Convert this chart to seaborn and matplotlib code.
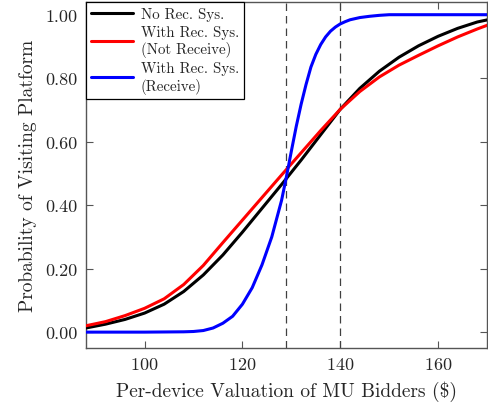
import matplotlib
matplotlib.use("Agg")
import matplotlib.pyplot as plt
import seaborn as sns
import pandas as pd
from matplotlib.ticker import FormatStrFormatter

# ---- data ----
x_grid = [88, 92, 96, 100, 104, 108, 112, 116, 120, 124, 128, 132, 136,
          140, 144, 148, 152, 156, 160, 164, 168, 172]
no_rec = [0.013, 0.025, 0.040, 0.060, 0.088, 0.128, 0.180, 0.243, 0.315,
          0.390, 0.465, 0.542, 0.622, 0.702, 0.768, 0.822, 0.866, 0.902,
          0.932, 0.957, 0.977, 0.990]
not_receive = [0.020, 0.033, 0.052, 0.075, 0.105, 0.150, 0.210, 0.282,
               0.353, 0.424, 0.495, 0.565, 0.635, 0.702, 0.758, 0.804,
               0.841, 0.872, 0.902, 0.930, 0.955, 0.978]
x_blue = [88, 92, 96, 100, 104, 108, 110, 112, 114, 116, 118, 120, 122, 124,
          126, 128, 129, 130, 131, 132, 133, 134, 135, 136, 137, 138, 139,
          140, 141, 142, 144, 146, 148, 150, 155, 160, 165, 172]
receive = [0.0, 0.0, 0.0, 0.0, 0.0005, 0.001, 0.002, 0.005, 0.013, 0.028,
           0.050, 0.088, 0.140, 0.212, 0.300, 0.415, 0.490, 0.570, 0.648,
           0.718, 0.780, 0.835, 0.875, 0.906, 0.930, 0.948, 0.961,
           0.971, 0.978, 0.984, 0.991, 0.995, 0.998, 1.0, 1.0, 1.0, 1.0, 1.0]
labels = ["No Rec. Sys.", "With Rec. Sys.\n(Not Receive)", "With Rec. Sys.\n(Receive)"]
colors = ["black", "#ff0000", "#0000ff"]
vlines = [129, 140]
y_ticks = [0.0, 0.2, 0.4, 0.6, 0.8, 1.0]
x_ticks = [100, 120, 140, 160]

df = pd.concat([
    pd.DataFrame({"x": x_grid, "y": no_rec, "series": labels[0]}),
    pd.DataFrame({"x": x_grid, "y": not_receive, "series": labels[1]}),
    pd.DataFrame({"x": x_blue, "y": receive, "series": labels[2]}),
], ignore_index=True)

sns.set_style("ticks")
plt.rcParams["font.family"] = ["cmr10", "DejaVu Serif"]
plt.rcParams["mathtext.fontset"] = "cm"
plt.rcParams["axes.formatter.use_mathtext"] = True
plt.rcParams["axes.unicode_minus"] = False

fig = plt.figure(figsize=(4.88, 4.06), dpi=100)
ax = fig.add_axes([0.176, 0.1404, 0.822, 0.8522])

for v in vlines:
    ax.axvline(v, color="#404040", lw=0.9, ls=(0, (6, 4)), zorder=1)

sns.lineplot(data=df, x="x", y="y", hue="series", hue_order=labels,
             palette=dict(zip(labels, colors)), lw=2.2, ax=ax, sort=True,
             estimator=None, zorder=3)

ax.set_xlim(88, 170)
ax.set_ylim(-0.05, 1.04)
ax.set_xticks(x_ticks)
ax.set_yticks(y_ticks)
ax.yaxis.set_major_formatter(FormatStrFormatter("%.2f"))
ax.tick_params(direction="in", length=5, width=0.8, color="#555555",
               top=True, right=True, labelsize=13, pad=6)
for s in ax.spines.values():
    s.set_color("#555555")
    s.set_linewidth(1.0)

ax.set_xlabel("Per-device Valuation of MU Bidders (\\$)", fontsize=14, labelpad=6)
ax.set_ylabel("Probability of Visiting Platform", fontsize=14, labelpad=6)

leg = ax.legend(loc="upper left", borderaxespad=0, fontsize=10.8,
                handlelength=2.8, frameon=True, fancybox=False,
                edgecolor="black", framealpha=1, labelspacing=0.25,
                borderpad=0.35, handletextpad=0.5)
leg.get_frame().set_linewidth(0.9)
for line in leg.get_lines():
    line.set_linewidth(2.2)

fig.savefig("out.png", dpi=100)
